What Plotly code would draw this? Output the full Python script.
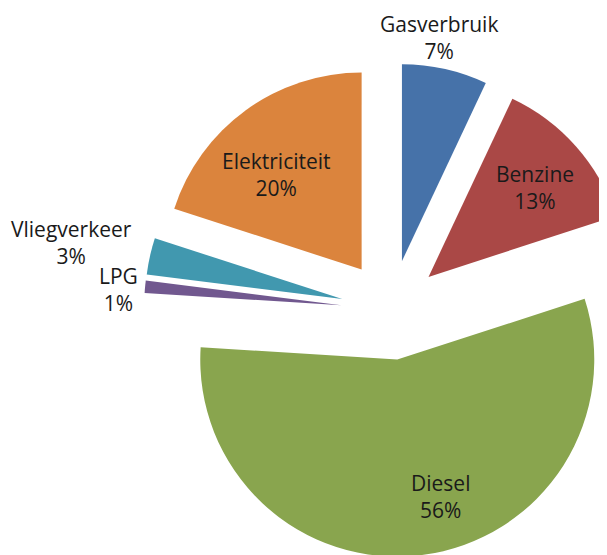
import math
import plotly.graph_objects as go

# ---- data ----
labels = ["Gasverbruik", "Benzine", "Diesel", "LPG", "Vliegverkeer", "Elektriciteit"]
values = [7, 13, 56, 1, 3, 20]
colors = ["#4672A9", "#AA4846", "#89A54E", "#71588F", "#4198AF", "#DB843D"]
text_positions = ["outside", "inside", "inside", "outside", "outside", "inside"]

# ---- layout parameters (figure pixels) ----
W, H = 640, 560          # figure a bit larger than the window: right edge is cropped as in the reference
CX, CY = 383, 302        # pie centre
R = 197                  # pie radius
EXPLODE = 50             # explosion distance
PULL = EXPLODE / R
FONT = dict(family="'Open Sans', sans-serif", size=21, color="#1a1a1a")
# label placement: offset (px) from a reference point of the slice
# (inside labels: 0.7 R along the slice middle; outside labels: the outer middle of the slice)
label_offsets = {"Gasverbruik": (-6, -31), "Benzine": (3, 2), "Diesel": (26, 0),
                 "LPG": (-27, 3), "Vliegverkeer": (-78, -14), "Elektriciteit": (-4, 17)}

total = sum(values)
half = R * (1 + PULL)
fig = go.Figure(go.Pie(
    values=values,
    labels=labels,
    sort=False,
    direction="clockwise",
    rotation=0,
    pull=PULL,
    marker=dict(colors=colors, line=dict(width=0)),
    textinfo="none",
    hoverinfo="label+percent",
    showlegend=False,
    domain=dict(x=[(CX - half) / W, (CX + half) / W],
                y=[1 - (CY + half) / H, 1 - (CY - half) / H]),
))

# data labels
start = 0.0
for lab, val, tp in zip(labels, values, text_positions):
    frac = val / total
    mid = math.radians((start + frac / 2) * 360)
    start += frac
    dist = EXPLODE + (0.7 * R if tp == "inside" else R)
    px = CX + dist * math.sin(mid)
    py = CY - dist * math.cos(mid)
    dx, dy = label_offsets[lab]
    fig.add_annotation(
        x=(px + dx) / W, y=1 - (py + dy) / H, xref="paper", yref="paper",
        text=f"{lab}<br>{round(100 * frac)}%", showarrow=False,
        xanchor="center", yanchor="middle", align="center", borderpad=0,
        font=FONT,
    )

fig.update_layout(
    width=W, height=H,
    margin=dict(l=0, r=0, t=0, b=0),
    paper_bgcolor="white",
    plot_bgcolor="white",
    showlegend=False,
)
fig.write_html("out.html")
